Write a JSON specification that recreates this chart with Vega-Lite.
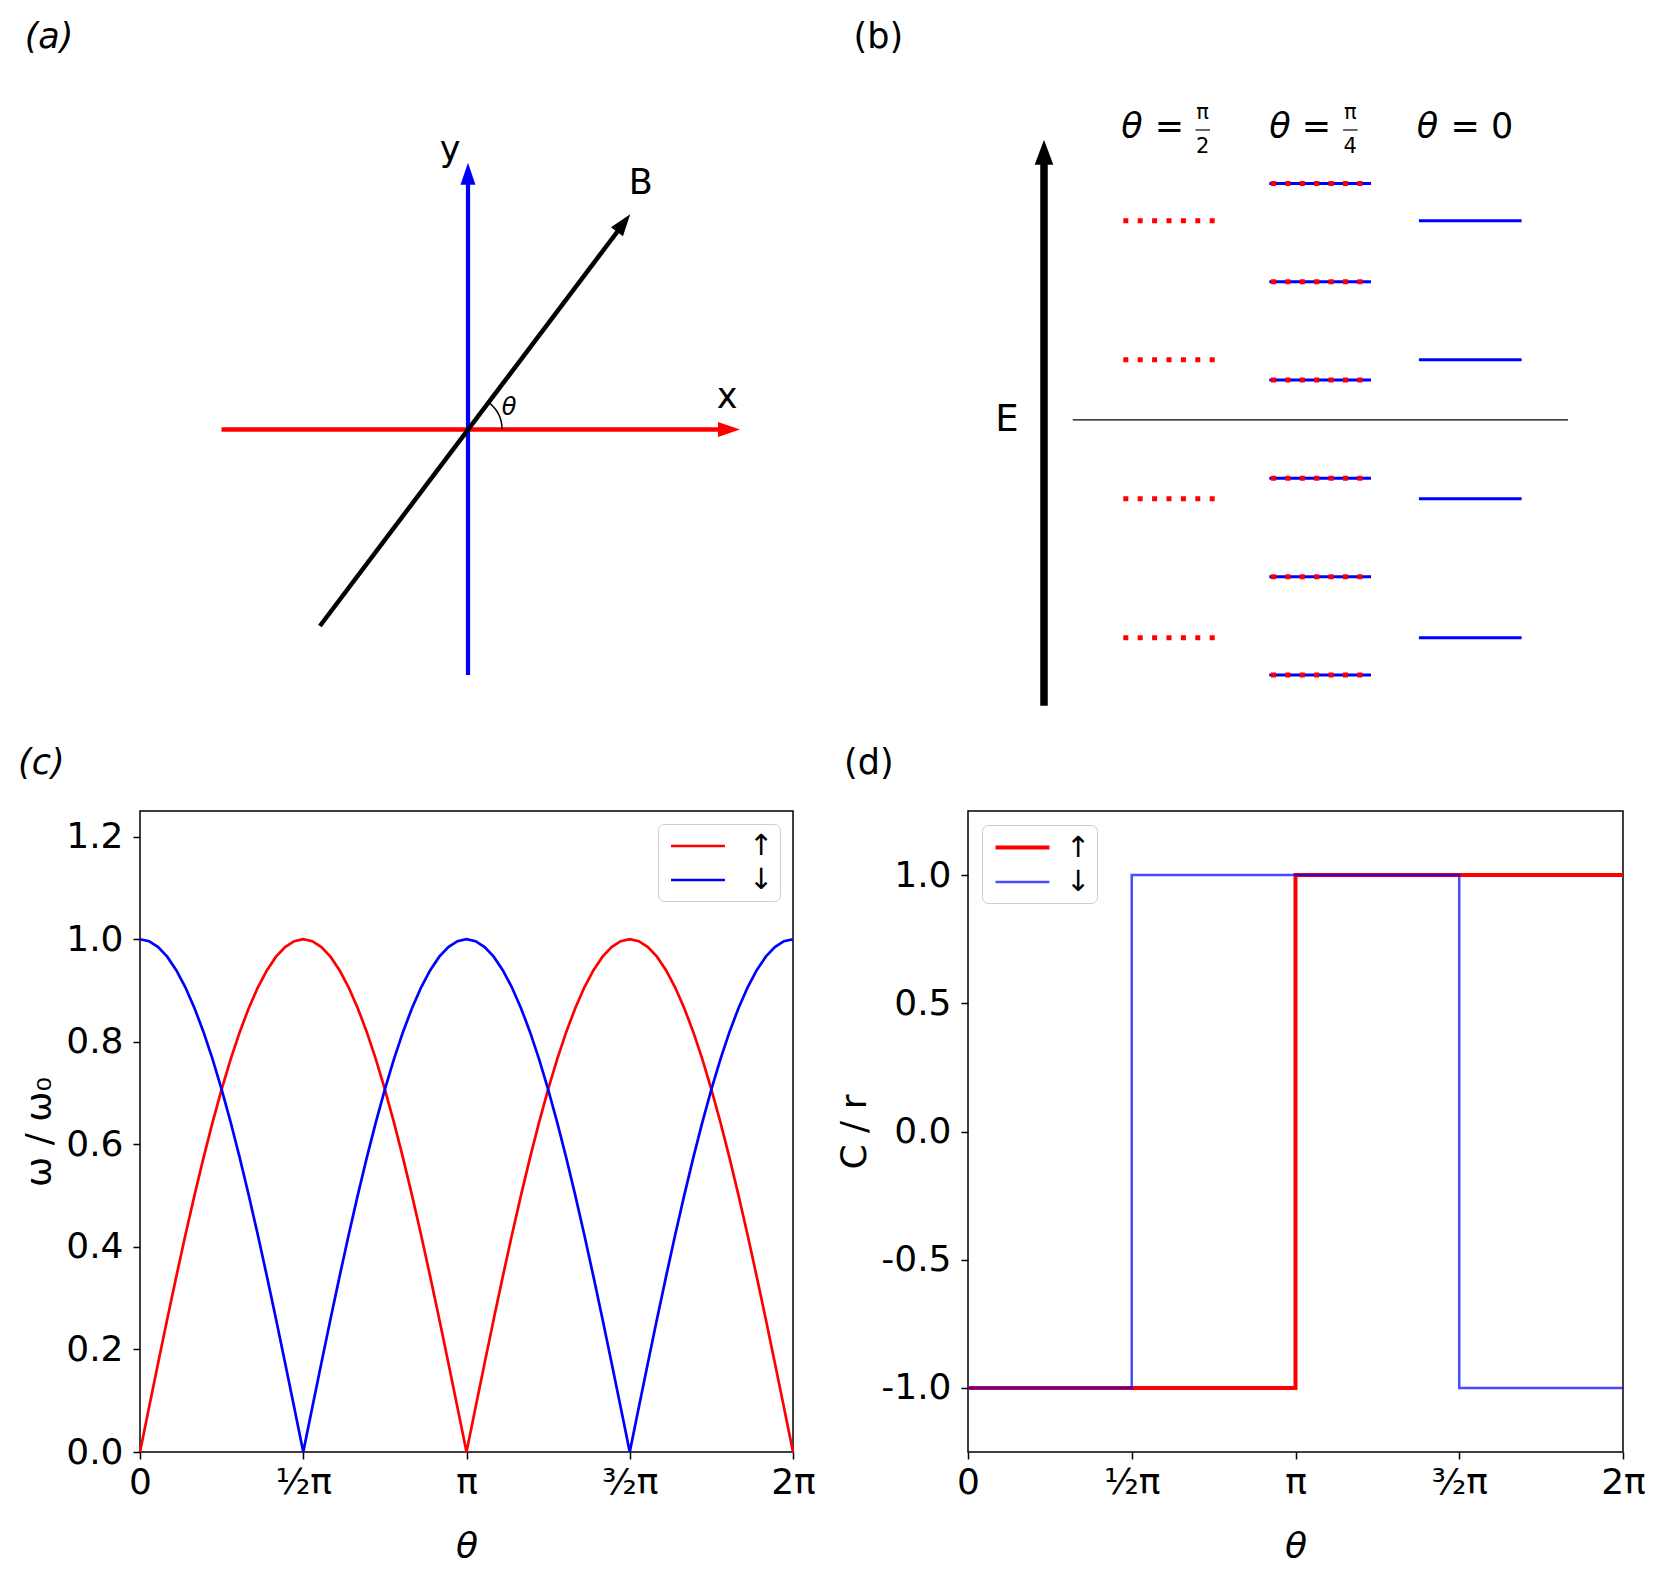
{
  "$schema": "https://vega.github.io/schema/vega-lite/v6.json",
  "padding": {"left": 17, "top": 0, "right": 5, "bottom": 5},
  "background": "white",
  "bounds": "flush",
  "columns": 2,
  "spacing": {"row": 91, "column": 175},
  "resolve": {
    "scale": {"color": "independent", "strokeWidth": "independent", "opacity": "independent"},
    "legend": {"color": "independent", "strokeWidth": "independent", "opacity": "independent"}
  },
  "config": {
    "font": "DejaVu Sans",
    "view": {"stroke": null},
    "axis": {"grid": false, "domain": false, "tickColor": "black", "tickWidth": 1.5, "tickSize": 7, "labelColor": "black", "labelFont": "DejaVu Sans", "labelFontSize": 36, "titleFont": "DejaVu Sans", "titleFontSize": 36, "titleFontWeight": "normal", "titleColor": "black", "labelOverlap": false, "labelFlush": false},
    "axisX": {"labelPadding": 6, "titlePadding": 29},
    "axisY": {"labelPadding": 10, "titlePadding": 7},
    "legend": {"title": null, "symbolType": "M-0.62,0H3.1", "symbolSize": 841, "labelFontSize": 29, "labelFont": "DejaVu Sans", "labelColor": "black", "fillColor": "white", "strokeColor": "#cccccc", "cornerRadius": 6, "padding": 6, "rowPadding": 3, "labelOffset": 53},
    "text": {"font": "DejaVu Sans", "color": "black"}
  },
  "concat": [
    {
      "width": 653, "height": 720,
      "encoding": {
        "x": {"field": "x", "type": "quantitative", "scale": {"domain": [-3.28, 3.25], "nice": false, "zero": false}, "axis": null},
        "y": {"field": "y", "type": "quantitative", "scale": {"domain": [-2.905, 4.295], "nice": false, "zero": false}, "axis": null}
      },
      "layer": [
        {
          "data": {"values": [{"x": -2.465, "y": 0, "x2": 2.56, "y2": 0}]},
          "mark": {"type": "rule", "strokeWidth": 4.5, "color": "#ff0000"},
          "encoding": {"x2": {"field": "x2"}, "y2": {"field": "y2"}}
        },
        {
          "data": {"values": [{"x": 0, "y": -2.455, "x2": 0, "y2": 2.5}]},
          "mark": {"type": "rule", "strokeWidth": 4.2, "color": "#0000ff"},
          "encoding": {"x2": {"field": "x2"}, "y2": {"field": "y2"}}
        },
        {
          "data": {"values": [{"x": -1.481, "y": -1.965, "x2": 1.51, "y2": 2.0}]},
          "mark": {"type": "rule", "strokeWidth": 4.5, "color": "#000000"},
          "encoding": {"x2": {"field": "x2"}, "y2": {"field": "y2"}}
        },
        {
          "data": {"values": [{"x": 2.72, "y": 0, "dir": 90}]},
          "mark": {"type": "point", "shape": "M0,0L0.68,2L-0.68,2Z", "size": 484, "filled": true, "opacity": 1, "strokeWidth": 0, "color": "#ff0000"},
          "encoding": {"angle": {"field": "dir", "type": "quantitative", "scale": null}}
        },
        {
          "data": {"values": [{"x": 0, "y": 2.667, "dir": 0}]},
          "mark": {"type": "point", "shape": "M0,0L0.68,2L-0.68,2Z", "size": 484, "filled": true, "opacity": 1, "strokeWidth": 0, "color": "#0000ff"},
          "encoding": {"angle": {"field": "dir", "type": "quantitative", "scale": null}}
        },
        {
          "data": {"values": [{"x": 1.622, "y": 2.152, "dir": 37}]},
          "mark": {"type": "point", "shape": "M0,0L0.68,2L-0.68,2Z", "size": 484, "filled": true, "opacity": 1, "strokeWidth": 0, "color": "#000000"},
          "encoding": {"angle": {"field": "dir", "type": "quantitative", "scale": null}}
        },
        {
          "data": {"values": [{"x": 0, "y": 0}]},
          "mark": {"type": "arc", "theta": 0.6458, "theta2": 1.5708, "outerRadius": 34.8, "innerRadius": 33.3, "color": "black"}
        },
        {
          "data": {"values": [
            {"t": "y", "x": -0.18, "y": 2.682},
            {"t": "B", "x": 1.727, "y": 2.359},
            {"t": "x", "x": 2.59, "y": 0.212}
          ]},
          "mark": {"type": "text", "fontSize": 35, "align": "center", "baseline": "alphabetic"},
          "encoding": {"text": {"field": "t"}}
        },
        {
          "data": {"values": [{"t": "θ", "x": 0.41, "y": 0.145}]},
          "mark": {"type": "text", "fontSize": 24, "fontStyle": "italic", "align": "center", "baseline": "alphabetic"},
          "encoding": {"text": {"field": "t"}}
        },
        {
          "data": {"values": [{"t": "(a)", "x": -4.433, "y": 3.813}]},
          "mark": {"type": "text", "fontSize": 35, "fontStyle": "italic", "align": "left", "baseline": "alphabetic"},
          "encoding": {"text": {"field": "t"}}
        }
      ]
    },
    {
      "width": 655, "height": 720,
      "encoding": {
        "x": {"field": "x", "type": "quantitative", "scale": {"domain": [-0.76, 5.79], "nice": false, "zero": false}, "axis": null},
        "y": {"field": "E", "type": "quantitative", "scale": {"domain": [-2.958, 4.366], "nice": false, "zero": false}, "axis": null}
      },
      "layer": [
        {
          "data": {"values": [{"x": 0, "E": -2.814, "E2": 2.72}]},
          "mark": {"type": "rule", "strokeWidth": 7.5, "color": "black"},
          "encoding": {"y2": {"field": "E2"}}
        },
        {
          "data": {"values": [{"x": 0, "E": 2.944}]},
          "mark": {"type": "point", "shape": "M0,0L0.744,2L-0.744,2Z", "size": 625, "filled": true, "opacity": 1, "strokeWidth": 0, "color": "black"}
        },
        {
          "data": {"values": [{"x": 0.287, "x2": 5.24, "E": 0.095}]},
          "mark": {"type": "rule", "strokeWidth": 1.3, "color": "black"},
          "encoding": {"x2": {"field": "x2"}}
        },
        {
          "data": {"values": [
            {"col": "pi4", "x": 2.253, "x2": 3.27, "E": 2.5},
            {"col": "pi4", "x": 2.253, "x2": 3.27, "E": 1.5},
            {"col": "pi4", "x": 2.253, "x2": 3.27, "E": 0.5},
            {"col": "pi4", "x": 2.253, "x2": 3.27, "E": -0.5},
            {"col": "pi4", "x": 2.253, "x2": 3.27, "E": -1.5},
            {"col": "pi4", "x": 2.253, "x2": 3.27, "E": -2.5},
            {"col": "zero", "x": 3.749, "x2": 4.776, "E": 2.1213},
            {"col": "zero", "x": 3.749, "x2": 4.776, "E": 0.7071},
            {"col": "zero", "x": 3.749, "x2": 4.776, "E": -0.7071},
            {"col": "zero", "x": 3.749, "x2": 4.776, "E": -2.1213}
          ]},
          "mark": {"type": "rule", "strokeWidth": 3, "color": "#0000ff"},
          "encoding": {"x2": {"field": "x2"}}
        },
        {
          "data": {"values": [
            {"col": "pi2", "x": 0.793, "x2": 1.79, "E": 2.1213},
            {"col": "pi2", "x": 0.793, "x2": 1.79, "E": 0.7071},
            {"col": "pi2", "x": 0.793, "x2": 1.79, "E": -0.7071},
            {"col": "pi2", "x": 0.793, "x2": 1.79, "E": -2.1213},
            {"col": "pi4", "x": 2.27, "x2": 3.27, "E": 2.5},
            {"col": "pi4", "x": 2.27, "x2": 3.27, "E": 1.5},
            {"col": "pi4", "x": 2.27, "x2": 3.27, "E": 0.5},
            {"col": "pi4", "x": 2.27, "x2": 3.27, "E": -0.5},
            {"col": "pi4", "x": 2.27, "x2": 3.27, "E": -1.5},
            {"col": "pi4", "x": 2.27, "x2": 3.27, "E": -2.5}
          ]},
          "mark": {"type": "rule", "strokeWidth": 5, "color": "#ff0000", "strokeDash": [5, 9.4]},
          "encoding": {"x2": {"field": "x2"}}
        },
        {
          "data": {"values": [
            {"t": "θ", "x": 0.772, "E": 2.962},
            {"t": "θ", "x": 2.252, "E": 2.962},
            {"t": "θ", "x": 3.728, "E": 2.962}
          ]},
          "mark": {"type": "text", "fontSize": 35, "fontStyle": "italic", "align": "left", "baseline": "alphabetic"},
          "encoding": {"text": {"field": "t"}}
        },
        {
          "data": {"values": [
            {"t": "=", "x": 1.108, "E": 2.962},
            {"t": "=", "x": 2.578, "E": 2.962},
            {"t": "= 0", "x": 4.065, "E": 2.962}
          ]},
          "mark": {"type": "text", "fontSize": 35, "align": "left", "baseline": "alphabetic"},
          "encoding": {"text": {"field": "t"}}
        },
        {
          "data": {"values": [
            {"t": "π", "x": 1.587, "E": 3.159},
            {"t": "2", "x": 1.587, "E": 2.813},
            {"t": "π", "x": 3.063, "E": 3.159},
            {"t": "4", "x": 3.063, "E": 2.813}
          ]},
          "mark": {"type": "text", "fontSize": 21, "align": "center", "baseline": "alphabetic"},
          "encoding": {"text": {"field": "t"}}
        },
        {
          "data": {"values": [
            {"x": 1.515, "x2": 1.66, "E": 3.044},
            {"x": 2.991, "x2": 3.136, "E": 3.044}
          ]},
          "mark": {"type": "rule", "strokeWidth": 1.2, "color": "black"},
          "encoding": {"x2": {"field": "x2"}}
        },
        {
          "data": {"values": [{"t": "E", "x": -0.37, "E": -0.015}]},
          "mark": {"type": "text", "fontSize": 37, "align": "center", "baseline": "alphabetic"},
          "encoding": {"text": {"field": "t"}}
        },
        {
          "data": {"values": [{"t": "(b)", "x": -1.904, "E": 3.876}]},
          "mark": {"type": "text", "fontSize": 35, "align": "left", "baseline": "alphabetic"},
          "encoding": {"text": {"field": "t"}}
        }
      ]
    },
    {
      "width": 653, "height": 641,
      "view": {"stroke": "black", "strokeWidth": 1.5},
      "encoding": {
        "x": {"field": "t", "type": "quantitative", "title": "θ",
          "scale": {"domain": [0, 360], "nice": false, "zero": false},
          "axis": {"values": [0, 90, 180, 270, 360], "titleFontStyle": "italic",
            "labelExpr": "datum.value == 0 ? '0' : datum.value == 90 ? '½π' : datum.value == 180 ? 'π' : datum.value == 270 ? '³⁄₂π' : '2π'"}},
        "y": {"field": "v", "type": "quantitative", "title": "ω / ω₀",
          "scale": {"domain": [0, 1.25], "nice": false, "zero": false},
          "axis": {"values": [0, 0.2, 0.4, 0.6, 0.8, 1.0, 1.2], "format": ".1f"}}
      },
      "layer": [
        {
          "data": {"values": [
            {"t": 0, "up": 0, "down": 1},
            {"t": 5, "up": 0.0872, "down": 0.9962},
            {"t": 10, "up": 0.1736, "down": 0.9848},
            {"t": 15, "up": 0.2588, "down": 0.9659},
            {"t": 20, "up": 0.342, "down": 0.9397},
            {"t": 25, "up": 0.4226, "down": 0.9063},
            {"t": 30, "up": 0.5, "down": 0.866},
            {"t": 35, "up": 0.5736, "down": 0.8192},
            {"t": 40, "up": 0.6428, "down": 0.766},
            {"t": 45, "up": 0.7071, "down": 0.7071},
            {"t": 50, "up": 0.766, "down": 0.6428},
            {"t": 55, "up": 0.8192, "down": 0.5736},
            {"t": 60, "up": 0.866, "down": 0.5},
            {"t": 65, "up": 0.9063, "down": 0.4226},
            {"t": 70, "up": 0.9397, "down": 0.342},
            {"t": 75, "up": 0.9659, "down": 0.2588},
            {"t": 80, "up": 0.9848, "down": 0.1736},
            {"t": 85, "up": 0.9962, "down": 0.0872},
            {"t": 90, "up": 1, "down": 0},
            {"t": 95, "up": 0.9962, "down": 0.0872},
            {"t": 100, "up": 0.9848, "down": 0.1736},
            {"t": 105, "up": 0.9659, "down": 0.2588},
            {"t": 110, "up": 0.9397, "down": 0.342},
            {"t": 115, "up": 0.9063, "down": 0.4226},
            {"t": 120, "up": 0.866, "down": 0.5},
            {"t": 125, "up": 0.8192, "down": 0.5736},
            {"t": 130, "up": 0.766, "down": 0.6428},
            {"t": 135, "up": 0.7071, "down": 0.7071},
            {"t": 140, "up": 0.6428, "down": 0.766},
            {"t": 145, "up": 0.5736, "down": 0.8192},
            {"t": 150, "up": 0.5, "down": 0.866},
            {"t": 155, "up": 0.4226, "down": 0.9063},
            {"t": 160, "up": 0.342, "down": 0.9397},
            {"t": 165, "up": 0.2588, "down": 0.9659},
            {"t": 170, "up": 0.1736, "down": 0.9848},
            {"t": 175, "up": 0.0872, "down": 0.9962},
            {"t": 180, "up": 0, "down": 1},
            {"t": 185, "up": 0.0872, "down": 0.9962},
            {"t": 190, "up": 0.1736, "down": 0.9848},
            {"t": 195, "up": 0.2588, "down": 0.9659},
            {"t": 200, "up": 0.342, "down": 0.9397},
            {"t": 205, "up": 0.4226, "down": 0.9063},
            {"t": 210, "up": 0.5, "down": 0.866},
            {"t": 215, "up": 0.5736, "down": 0.8192},
            {"t": 220, "up": 0.6428, "down": 0.766},
            {"t": 225, "up": 0.7071, "down": 0.7071},
            {"t": 230, "up": 0.766, "down": 0.6428},
            {"t": 235, "up": 0.8192, "down": 0.5736},
            {"t": 240, "up": 0.866, "down": 0.5},
            {"t": 245, "up": 0.9063, "down": 0.4226},
            {"t": 250, "up": 0.9397, "down": 0.342},
            {"t": 255, "up": 0.9659, "down": 0.2588},
            {"t": 260, "up": 0.9848, "down": 0.1736},
            {"t": 265, "up": 0.9962, "down": 0.0872},
            {"t": 270, "up": 1, "down": 0},
            {"t": 275, "up": 0.9962, "down": 0.0872},
            {"t": 280, "up": 0.9848, "down": 0.1736},
            {"t": 285, "up": 0.9659, "down": 0.2588},
            {"t": 290, "up": 0.9397, "down": 0.342},
            {"t": 295, "up": 0.9063, "down": 0.4226},
            {"t": 300, "up": 0.866, "down": 0.5},
            {"t": 305, "up": 0.8192, "down": 0.5736},
            {"t": 310, "up": 0.766, "down": 0.6428},
            {"t": 315, "up": 0.7071, "down": 0.7071},
            {"t": 320, "up": 0.6428, "down": 0.766},
            {"t": 325, "up": 0.5736, "down": 0.8192},
            {"t": 330, "up": 0.5, "down": 0.866},
            {"t": 335, "up": 0.4226, "down": 0.9063},
            {"t": 340, "up": 0.342, "down": 0.9397},
            {"t": 345, "up": 0.2588, "down": 0.9659},
            {"t": 350, "up": 0.1736, "down": 0.9848},
            {"t": 355, "up": 0.0872, "down": 0.9962},
            {"t": 360, "up": 0, "down": 1}
          ]},
          "transform": [{"fold": ["up", "down"], "as": ["s", "v"]}],
          "mark": {"type": "line", "strokeWidth": 2.7},
          "encoding": {
            "color": {"field": "s", "type": "nominal",
              "scale": {"domain": ["up", "down"], "range": ["#ff0000", "#0000ff"]},
              "legend": {"orient": "top-right", "offset": 13, "symbolStrokeWidth": 2.7, "labelExpr": "datum.label == 'up' ? '↑' : '↓'"}}
          }
        },
        {
          "data": {"values": [{"lab": "(c)", "t": -67.26, "v": 1.3225}]},
          "mark": {"type": "text", "fontSize": 35, "fontStyle": "italic", "align": "left", "baseline": "alphabetic"},
          "encoding": {"text": {"field": "lab"}}
        }
      ]
    },
    {
      "width": 655, "height": 641,
      "view": {"stroke": "black", "strokeWidth": 1.5},
      "encoding": {
        "x": {"field": "t", "type": "quantitative", "title": "θ",
          "scale": {"domain": [0, 360], "nice": false, "zero": false},
          "axis": {"values": [0, 90, 180, 270, 360], "titleFontStyle": "italic",
            "labelExpr": "datum.value == 0 ? '0' : datum.value == 90 ? '½π' : datum.value == 180 ? 'π' : datum.value == 270 ? '³⁄₂π' : '2π'"}},
        "y": {"field": "v", "type": "quantitative", "title": "C / r",
          "scale": {"domain": [-1.25, 1.25], "nice": false, "zero": false},
          "axis": {"values": [-1, -0.5, 0, 0.5, 1], "labelExpr": "datum.value < 0 ? '-' + format(-datum.value, '.1f') : format(datum.value, '.1f')"}}
      },
      "layer": [
        {
          "data": {"values": [
            {"t": 0, "s": "up", "v": -1},
            {"t": 180, "s": "up", "v": 1},
            {"t": 360, "s": "up", "v": 1},
            {"t": 0, "s": "down", "v": -1},
            {"t": 90, "s": "down", "v": 1},
            {"t": 270, "s": "down", "v": -1},
            {"t": 360, "s": "down", "v": -1}
          ]},
          "mark": {"type": "line", "interpolate": "step-after"},
          "encoding": {
            "color": {"field": "s", "type": "nominal",
              "scale": {"domain": ["up", "down"], "range": ["#ff0000", "#0000ff"]},
              "legend": {"orient": "top-left", "offset": 13.5, "labelOffset": 45, "labelExpr": "datum.label == 'up' ? '↑' : '↓'"}},
            "strokeWidth": {"field": "s", "type": "nominal",
              "scale": {"type": "ordinal", "domain": ["up", "down"], "range": [4, 2.5]},
              "legend": {"orient": "top-left", "offset": 13.5, "labelOffset": 45, "labelExpr": "datum.label == 'up' ? '↑' : '↓'"}},
            "opacity": {"field": "s", "type": "nominal",
              "scale": {"type": "ordinal", "domain": ["up", "down"], "range": [1, 0.7]},
              "legend": {"orient": "top-left", "offset": 13.5, "labelOffset": 45, "labelExpr": "datum.label == 'up' ? '↑' : '↓'"}}
          }
        },
        {
          "data": {"values": [{"lab": "(d)", "t": -68.15, "v": 1.395}]},
          "mark": {"type": "text", "fontSize": 35, "align": "left", "baseline": "alphabetic"},
          "encoding": {"text": {"field": "lab"}}
        }
      ]
    }
  ]
}
